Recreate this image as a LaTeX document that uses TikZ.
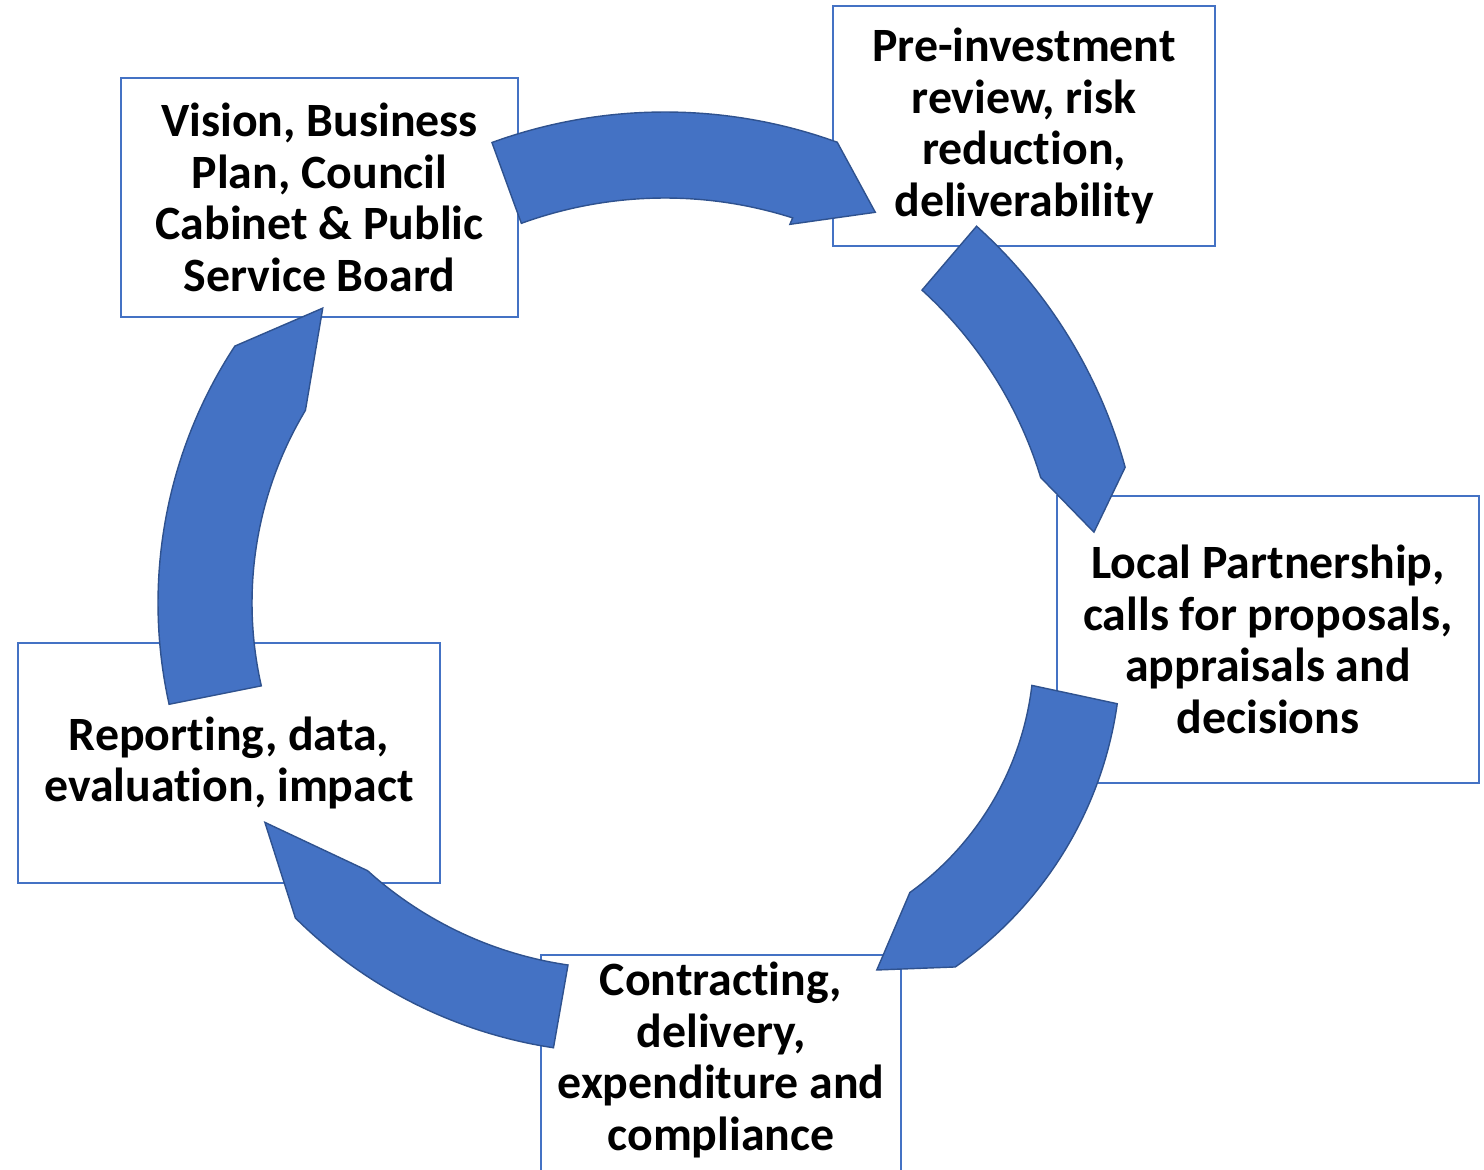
\documentclass[tikz,border=0pt]{standalone}
\usepackage{fontspec}
\setmainfont{Carlito}[Ligatures=CommonOff]
\usetikzlibrary{calc}
\definecolor{cycleblue}{HTML}{4472C4}
\definecolor{cycleedge}{HTML}{2F528F}
\tikzset{
  stagetext/.style={align=center, inner sep=0pt, font=\bfseries\fontsize{13.6}{14.7}\selectfont},
  stage/.style={stagetext, draw=cycleblue, line width=0.5pt},
  cyclearrow/.style={fill=cycleblue, draw=cycleedge, line width=0.4pt}
}

\begin{document}
\begin{tikzpicture}[x=0.01cm, y=-0.01cm]
\useasboundingbox (0,0) rectangle (1484,1169);

% the five stages
\node[stage, minimum width=3.97cm, minimum height=2.39cm] (vision) at (319.5,197.5)
  {Vision, Business\\Plan, Council\\Cabinet \& Public\\Service Board};
\node[stage, minimum width=3.82cm, minimum height=2.40cm] (preinv) at (1024,126)
  {Pre-investment\\review, risk\\reduction,\\deliverability};
\node[stage, minimum width=4.22cm, minimum height=2.87cm] (local) at (1268,639.5)
  {Local Partnership,\\calls for proposals,\\appraisals and\\decisions};
\node[stage, minimum width=4.22cm, minimum height=2.40cm] (report) at (229,763)
  {Reporting, data,\\evaluation, impact};
\draw[cycleblue, line width=0.5pt] (541,1190) -- (541,955) -- (901,955) -- (901,1190);
\node[stagetext] (contract) at (721,1060)
  {Contracting,\\delivery,\\expenditure and\\compliance};

% curved arrows between the stages
\coordinate (cA) at (665,618);
\coordinate (cB) at (640,600);
\coordinate (cC) at (735,650);
\coordinate (cD) at (623,588);
\coordinate (cE) at (626,603);

\filldraw[cyclearrow] ($(cA)+(250:420)$) -- ($(cA)+(250:506)$)
  arc[start angle=250, end angle=289.9, radius=506] -- ($(cA)+(297.4:457)$)
  -- ($(cA)+(287.6:413)$) -- ($(cA)+(287.7:420)$)
  arc[start angle=287.7, end angle=250, radius=420] -- cycle;
\filldraw[cyclearrow] ($(cB)+(312.3:419)$) -- ($(cB)+(312:503)$)
  arc[start angle=312, end angle=344.7, radius=503] -- ($(cB)+(351.5:459)$)
  -- ($(cB)+(343:419)$)
  arc[start angle=343, end angle=312.3, radius=419] -- cycle;
\filldraw[cyclearrow] ($(cC)+(6.8:299)$) -- ($(cC)+(8:386)$)
  arc[start angle=8, end angle=55.2, radius=386] -- ($(cC)+(66.1:350)$)
  -- ($(cC)+(54.2:299)$)
  arc[start angle=54.2, end angle=6.8, radius=299] -- cycle;
\filldraw[cyclearrow] ($(cD)+(98.3:381)$) -- ($(cD)+(98.6:465)$)
  arc[start angle=98.6, end angle=134.8, radius=465] -- ($(cD)+(146.8:428)$)
  -- ($(cD)+(132.1:381)$)
  arc[start angle=132.1, end angle=98.3, radius=381] -- cycle;
\filldraw[cyclearrow] ($(cE)+(167.2:374)$) -- ($(cE)+(167.5:468)$)
  arc[start angle=167.5, end angle=213.3, radius=468] -- ($(cE)+(224.2:423)$)
  -- ($(cE)+(211:374)$)
  arc[start angle=211, end angle=167.2, radius=374] -- cycle;
\end{tikzpicture}
\end{document}
